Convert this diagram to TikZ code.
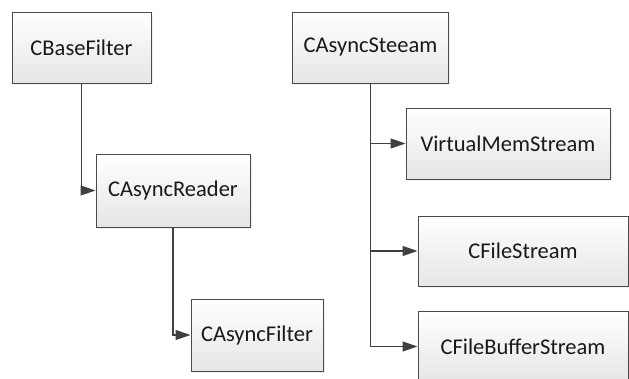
\documentclass[tikz,border=0pt]{standalone}
\usepackage{fontspec}
\setmainfont{Carlito}
\usetikzlibrary{arrows.meta,shadows}
\definecolor{edgec}{HTML}{404040}
\definecolor{boxline}{HTML}{4A4A4A}
\begin{document}
\begin{tikzpicture}[x=1pt,y=-1pt,
  cls/.style={draw=boxline, line width=1pt, top color=white, bottom color=black!10,
    drop shadow={opacity=0.12, shadow xshift=1.5pt, shadow yshift=-1.5pt},
    inner sep=0pt, font=\fontsize{22.5}{26}\selectfont, text=black!90},
  link/.style={draw=edgec, line width=1.2pt, -{Triangle[length=15pt,width=10pt]}}]
\useasboundingbox (0,0) rectangle (629,378);
\clip (0,0) rectangle (629,378);
\node[cls, minimum width=139pt, minimum height=71pt] (base) at (81.5,47.5) {CBaseFilter};
\node[cls, minimum width=154pt, minimum height=73pt] (reader) at (173,190.5) {CAsyncReader};
\node[cls, minimum width=132pt, minimum height=72pt] (filter) at (257,335) {CAsyncFilter};
\node[cls, minimum width=156pt, minimum height=71pt] (stream) at (370.5,47.5) {CAsyncSteeam};
\node[cls, minimum width=204pt, minimum height=71pt] (vmem) at (508,143.5) {VirtualMemStream};
\node[cls, minimum width=210pt, minimum height=70pt] (fstream) at (523,251) {CFileStream};
\node[cls, minimum width=210pt, minimum height=71pt] (fbstream) at (523,346.5) {CFileBufferStream};
\draw[link] (base.south) |- (reader.west);
\draw[link] (reader.south) |- (filter.west);
\draw[link] (stream.south) |- (vmem.west);
\draw[link] (stream.south) |- (fstream.west);
\draw[link] (stream.south) |- (fbstream.west);
\end{tikzpicture}
\end{document}
